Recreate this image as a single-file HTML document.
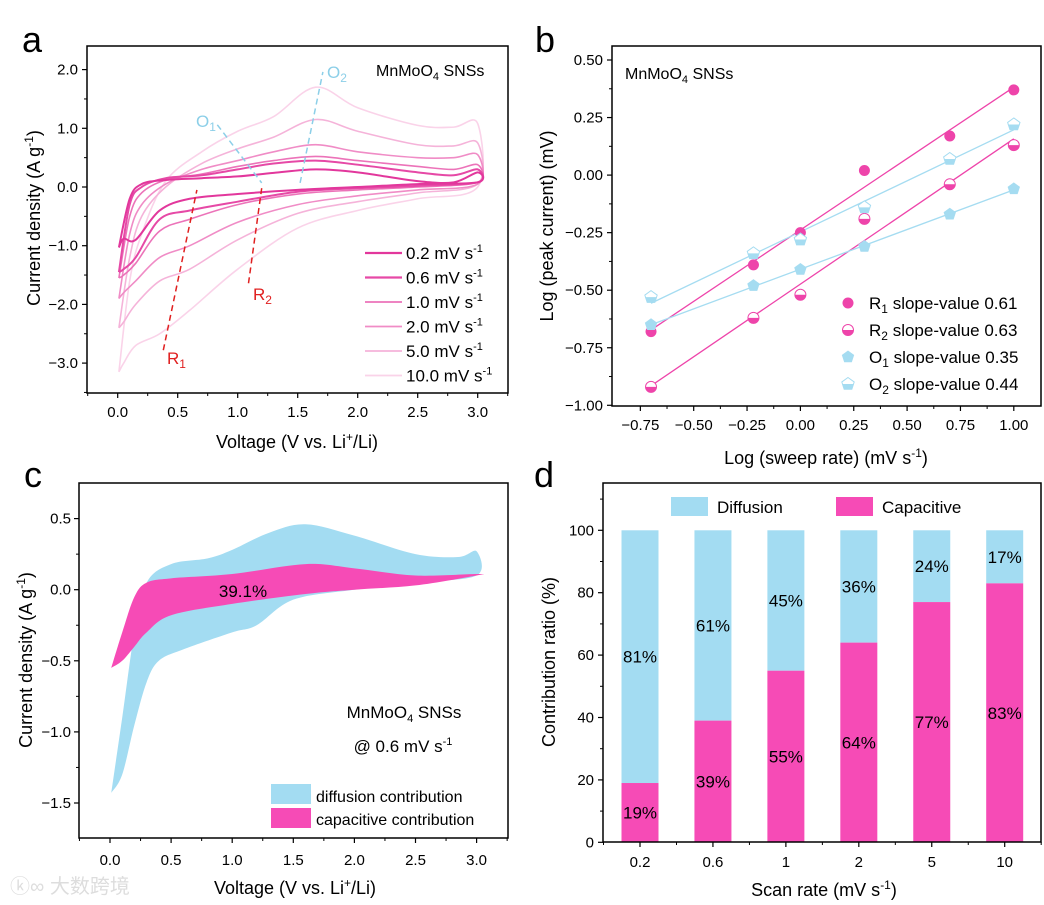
<!DOCTYPE html>
<html><head><meta charset="utf-8">
<style>
html,body{margin:0;padding:0;background:#fff;}
svg{display:block;font-family:"Liberation Sans",Arial,sans-serif;}
</style></head>
<body>
<svg id="fig" width="1044" height="905" viewBox="0 0 1044 905" xmlns="http://www.w3.org/2000/svg">
<rect width="1044" height="905" fill="#fff"/>
<g id="pa"></g>
<g id="pb"></g>
<g id="pc"></g>
<g id="pd"></g>
<text x="10" y="893" font-size="20" fill="#ddd" font-family="Liberation Sans, Noto Sans CJK SC, sans-serif">ⓚ∞ 大数跨境</text>
</svg>
<script>
// ---------- Panel a data ----------
const aRates = ['0.2','0.6','1.0','2.0','5.0','10.0'];
const aColors = ['#e2379c','#e649a6','#ec73b9','#f08cc6','#f5b3d9','#fad3e9'];
const aUpV = [0.01,0.1,0.2,0.4,0.7,1.0,1.3,1.65,2.0,2.5,2.8,3.0];
const aLoV = [3.0,2.5,2.0,1.5,1.0,0.6,0.35,0.15,0.05,0.01];
const aUp02 = [-1.03,-0.2,0.05,0.12,0.15,0.18,0.24,0.3,0.25,0.1,0.08,0.25];
const aLo02 = [0.08,0.05,0.0,-0.05,-0.12,-0.2,-0.4,-0.9,-0.88,-1.03];
const aUp06 = [-1.45,-0.3,0.0,0.15,0.2,0.3,0.4,0.45,0.38,0.25,0.2,0.3];
const aLo06 = [0.08,0.02,-0.02,-0.08,-0.25,-0.4,-0.55,-1.2,-1.4,-1.45];
const aUp10 = [-1.55,-0.5,-0.1,0.12,0.22,0.35,0.45,0.52,0.45,0.35,0.3,0.38];
const aLo10 = [0.08,0.0,-0.05,-0.12,-0.3,-0.55,-0.75,-1.3,-1.5,-1.55];
const aUp20 = [-1.9,-0.8,-0.3,0.05,0.3,0.45,0.6,0.72,0.6,0.5,0.5,0.55];
const aLo20 = [0.05,-0.05,-0.15,-0.3,-0.6,-1.0,-1.2,-1.6,-1.8,-1.9];
const aUp50 = [-2.4,-1.2,-0.5,0.0,0.4,0.65,0.85,1.15,0.95,0.72,0.7,0.75];
const aLo50 = [0.05,-0.1,-0.25,-0.45,-0.9,-1.4,-1.6,-2.0,-2.3,-2.4];
const aUp100 = [-3.15,-1.6,-0.8,0.1,0.6,0.95,1.2,1.7,1.35,1.05,1.02,1.08];
const aLo100 = [0.0,-0.2,-0.4,-0.7,-1.4,-2.1,-2.5,-2.7,-3.0,-3.15];
const aXTicks = [0,0.5,1.0,1.5,2.0,2.5,3.0];
const aYTicks = [2,1,0,-1,-2,-3];
// ---------- Panel b data ----------
const bX = [-0.7,-0.22,0,0.3,0.7,1.0];
const bR1 = [-0.68,-0.39,-0.25,0.02,0.17,0.37];
const bR2 = [-0.92,-0.62,-0.52,-0.19,-0.04,0.13];
const bO1 = [-0.65,-0.48,-0.41,-0.31,-0.17,-0.06];
const bO2 = [-0.53,-0.34,-0.28,-0.14,0.07,0.22];
const bXTicks = [-0.75,-0.5,-0.25,0,0.25,0.5,0.75,1.0];
const bYTicks = [0.5,0.25,0,-0.25,-0.5,-0.75,-1.0];
const bLabels = ['0.61','0.63','0.35','0.44'];
// ---------- Panel c data ----------
const cDiffUpV = [0.01,0.1,0.2,0.3,0.5,0.8,1.0,1.3,1.6,2.0,2.5,2.85,3.0];
const cDiffUp = [-1.43,-0.9,-0.3,0.05,0.18,0.22,0.28,0.4,0.46,0.38,0.25,0.23,0.27];
const cDiffLoV = [3.0,2.5,2.0,1.5,1.2,1.0,0.6,0.4,0.3,0.2,0.1,0.01];
const cDiffLo = [0.1,0.05,0.0,-0.07,-0.25,-0.3,-0.42,-0.5,-0.65,-0.95,-1.3,-1.43];
const cCapUpV = [0.01,0.1,0.2,0.3,0.5,1.0,1.6,2.0,2.5,3.0];
const cCapUp = [-0.55,-0.3,-0.05,0.05,0.08,0.11,0.18,0.15,0.1,0.11];
const cCapLoV = [3.0,2.5,2.0,1.6,1.0,0.5,0.3,0.2,0.1,0.01];
const cCapLo = [0.1,0.03,0.0,-0.03,-0.1,-0.18,-0.3,-0.4,-0.5,-0.55];
const cXTicks = [0,0.5,1.0,1.5,2.0,2.5,3.0];
const cYTicks = [0.5,0,-0.5,-1.0,-1.5];
// ---------- Panel d data ----------
const dCats = ['0.2','0.6','1','2','5','10'];
const dCap = [19,39,55,64,77,83];
const dDiffLabel = [81,61,45,36,24,17];
const dYTicks = [0,20,40,60,80,100];

const NS='http://www.w3.org/2000/svg';
const TF=15, AF=18;
function el(parent,tag,attrs,text){const e=document.createElementNS(NS,tag);for(const k in attrs)e.setAttribute(k,attrs[k]);if(text!==undefined)e.textContent=text;parent.appendChild(e);return e;}
function smooth(pts){let d='M'+pts[0][0]+','+pts[0][1];for(let i=0;i<pts.length-1;i++){const p0=pts[i-1]||pts[i],p1=pts[i],p2=pts[i+1],p3=pts[i+2]||p2;const c1=[p1[0]+(p2[0]-p0[0])/6,p1[1]+(p2[1]-p0[1])/6],c2=[p2[0]-(p3[0]-p1[0])/6,p2[1]-(p3[1]-p1[1])/6];d+=' C'+c1[0]+','+c1[1]+' '+c2[0]+','+c2[1]+' '+p2[0]+','+p2[1];}return d;}
function fmt(v,dec){let s=v.toFixed(dec);if(v<0)s='\u2212'+s.slice(1);return s;}
function frame(g,x0,y0,x1,y1){const r=el(g,'rect',{x:x0,y:y0,width:x1-x0,height:y1-y0,fill:'none',stroke:'#000','stroke-width':1.5});}

// ===== Panel a =====
(function(){
const g=document.getElementById('pa');
const X=v=>117.7+v*120, Y=v=>187-v*58.7;
const t=el(g,'text',{x:22,y:52,'font-size':36},'a');
const ups=[aUp02,aUp06,aUp10,aUp20,aUp50,aUp100], los=[aLo02,aLo06,aLo10,aLo20,aLo50,aLo100];
for(let k=5;k>=0;k--){
 const pts=aUpV.map((v,i)=>[X(v),Y(ups[k][i])]).concat(aLoV.map((v,i)=>[X(v),Y(los[k][i])]));
 const p=el(g,'path',{d:smooth(pts),fill:'none',stroke:aColors[k],'stroke-width':k<2?2:1.6});
 
}
const dl=[[0.38,-2.78,0.66,-0.05,'#e02020'],[1.09,-1.64,1.2,-0.02,'#e02020'],[0.83,1.06,1.2,0.07,'#8ccfe8'],[1.52,0.07,1.71,1.96,'#8ccfe8']];
const dn=['r1-guide','r2-guide','o1-guide','o2-guide'];
dl.forEach((l,i)=>{const e=el(g,'line',{x1:X(l[0]),y1:Y(l[1]),x2:X(l[2]),y2:Y(l[3]),stroke:l[4],'stroke-width':1.5,'stroke-dasharray':'6,4'});});
const lab=[[167,364,'R','1','#e02020'],[253,300,'R','2','#e02020'],[196,127,'O','1','#8ccfe8'],[327,78,'O','2','#8ccfe8']];
lab.forEach((l,i)=>{const e=el(g,'text',{x:l[0],y:l[1],'font-size':17,fill:l[4]});e.innerHTML=l[2]+'<tspan font-size="12" dy="4">'+l[3]+'</tspan>';});
frame(g,87,46,508,393);
aXTicks.forEach(v=>{el(g,'line',{x1:X(v),y1:393,x2:X(v),y2:398,stroke:'#000','stroke-width':1.2});const e=el(g,'text',{x:X(v),y:417,'font-size':TF,'text-anchor':'middle'},v.toFixed(1));});
for(let v=-0.25;v<3.3;v+=0.5){el(g,'line',{x1:X(v),y1:393,x2:X(v),y2:396,stroke:'#000'});}
aYTicks.forEach(v=>{el(g,'line',{x1:82,y1:Y(v),x2:87,y2:Y(v),stroke:'#000','stroke-width':1.2});const e=el(g,'text',{x:78,y:Y(v)+5,'font-size':TF,'text-anchor':'end'},fmt(v,1));});
for(let v=-3.5;v<2.3;v+=1){el(g,'line',{x1:84,y1:Y(v),x2:87,y2:Y(v),stroke:'#000'});}
let e=el(g,'text',{x:297,y:448,'font-size':AF,'text-anchor':'middle'});e.innerHTML='Voltage (V vs. Li<tspan font-size="12" dy="-7">+</tspan><tspan dy="7">/Li)</tspan>';
e=el(g,'text',{transform:'translate(40,218) rotate(-90)','font-size':AF,'text-anchor':'middle'});e.innerHTML='Current density (A g<tspan font-size="12" dy="-7">-1</tspan><tspan dy="7">)</tspan>';
e=el(g,'text',{x:376,y:76,'font-size':16});e.innerHTML='MnMoO<tspan font-size="11" dy="4">4</tspan><tspan dy="-4"> SNSs</tspan>';
aRates.forEach((r,i)=>{const y=253+i*24.5;const l=el(g,'line',{x1:365,y1:y,x2:402,y2:y,stroke:aColors[i],'stroke-width':i<2?2.2:1.8});const tx=el(g,'text',{x:406,y:y+6,'font-size':17});tx.innerHTML=r+' mV s<tspan font-size="11" dy="-7">-1</tspan>';});
})();

// ===== Panel b =====
(function(){
const g=document.getElementById('pb');
const X=v=>800.4+v*213.4, Y=v=>175.1-v*230.2;
let e=el(g,'text',{x:535,y:52,'font-size':36},'b');
const pink='#ee44aa',blue='#a5dcf1';
const series=[[bR1,pink,'circle','full','r1'],[bR2,pink,'circle','half','r2'],[bO1,blue,'pent','full','o1'],[bO2,blue,'pent','half','o2']];
function fit(ys){const n=bX.length;let sx=0,sy=0,sxx=0,sxy=0;for(let i=0;i<n;i++){sx+=bX[i];sy+=ys[i];sxx+=bX[i]*bX[i];sxy+=bX[i]*ys[i];}const m=(n*sxy-sx*sy)/(n*sxx-sx*sx);return [m,(sy-m*sx)/n];}
function marker(cx,cy,shape,fill,col,name){
 const gg=el(g,'g',{});
 if(shape==='circle'){const r=5.5;
   if(fill==='full'){el(gg,'circle',{cx,cy,r,fill:col});}
   else{el(gg,'circle',{cx,cy,r,fill:'#fff',stroke:col,'stroke-width':1});el(gg,'path',{d:`M${cx-r},${cy} A${r},${r} 0 0 0 ${cx+r},${cy} Z`,fill:col});}
 } else {const r=6.5;const pts=[];for(let i=0;i<5;i++){const a=-Math.PI/2+i*2*Math.PI/5;pts.push([cx+r*Math.cos(a),cy+r*Math.sin(a)]);}
   const ps=pts.map(p=>p.join(',')).join(' ');
   if(fill==='full'){el(gg,'polygon',{points:ps,fill:col});}
   else{el(gg,'polygon',{points:ps,fill:'#fff',stroke:col,'stroke-width':1});el(gg,'polygon',{points:`${cx-6},${cy} ${cx+6},${cy} ${pts[2][0]},${pts[2][1]} ${pts[3][0]},${pts[3][1]}`,fill:col});}
 }
}
series.forEach(s=>{const [m,b]=fit(s[0]);const l=el(g,'line',{x1:X(-0.7),y1:Y(m*-0.7+b),x2:X(1),y2:Y(m+b),stroke:s[1],'stroke-width':1.3});});
series.forEach(s=>{s[0].forEach((v,i)=>marker(X(bX[i]),Y(v),s[2],s[3],s[1],'point-'+s[4]));});
frame(g,612,46,1041,406);
bXTicks.forEach(v=>{el(g,'line',{x1:X(v),y1:406,x2:X(v),y2:411,stroke:'#000','stroke-width':1.2});e=el(g,'text',{x:X(v),y:430,'font-size':TF,'text-anchor':'middle'},fmt(v,2));});
for(let v=-0.625;v<1.1;v+=0.25){el(g,'line',{x1:X(v),y1:406,x2:X(v),y2:409,stroke:'#000'});}
bYTicks.forEach(v=>{el(g,'line',{x1:607,y1:Y(v),x2:612,y2:Y(v),stroke:'#000','stroke-width':1.2});e=el(g,'text',{x:603,y:Y(v)+5,'font-size':TF,'text-anchor':'end'},fmt(v,2));});
for(let v=-0.875;v<0.5;v+=0.25){el(g,'line',{x1:609,y1:Y(v),x2:612,y2:Y(v),stroke:'#000'});}
e=el(g,'text',{x:826,y:464,'font-size':AF,'text-anchor':'middle'});e.innerHTML='Log (sweep rate) (mV s<tspan font-size="12" dy="-7">-1</tspan><tspan dy="7">)</tspan>';
e=el(g,'text',{transform:'translate(553,226) rotate(-90)','font-size':AF,'text-anchor':'middle'},'Log (peak current) (mV)');
e=el(g,'text',{x:625,y:79,'font-size':16});e.innerHTML='MnMoO<tspan font-size="11" dy="4">4</tspan><tspan dy="-4"> SNSs</tspan>';
series.forEach((s,i)=>{const y=303+i*27;marker(848,y,s[2],s[3],s[1],'legend-marker-'+s[4]);e=el(g,'text',{x:869,y:y+6,'font-size':17});e.innerHTML=s[4][0].toUpperCase()+'<tspan font-size="12" dy="4">'+s[4][1]+'</tspan><tspan dy="-4"> slope-value '+bLabels[i]+'</tspan>';});
})();

// ===== Panel c =====
(function(){
const g=document.getElementById('pc');
const X=v=>110+v*122.2, Y=v=>589.7-v*142.2;
let e=el(g,'text',{x:24,y:487,'font-size':36},'c');
const dp=cDiffUpV.map((v,i)=>[X(v),Y(cDiffUp[i])]).concat(cDiffLoV.map((v,i)=>[X(v),Y(cDiffLo[i])]));
e=el(g,'path',{d:smooth(dp)+' Z',fill:'#a3dcf2'});
const cp=cCapUpV.map((v,i)=>[X(v),Y(cCapUp[i])]).concat(cCapLoV.map((v,i)=>[X(v),Y(cCapLo[i])]));
e=el(g,'path',{d:smooth(cp)+' Z',fill:'#f64bb6'});
e=el(g,'text',{x:243,y:597,'font-size':17,'text-anchor':'middle'},'39.1%');
frame(g,79,483,508,838);
cXTicks.forEach(v=>{el(g,'line',{x1:X(v),y1:838,x2:X(v),y2:843,stroke:'#000','stroke-width':1.2});e=el(g,'text',{x:X(v),y:865,'font-size':TF,'text-anchor':'middle'},v.toFixed(1));});
for(let v=-0.25;v<3.3;v+=0.5){el(g,'line',{x1:X(v),y1:838,x2:X(v),y2:841,stroke:'#000'});}
cYTicks.forEach(v=>{el(g,'line',{x1:74,y1:Y(v),x2:79,y2:Y(v),stroke:'#000','stroke-width':1.2});e=el(g,'text',{x:71,y:Y(v)+5,'font-size':TF,'text-anchor':'end'},fmt(v,1));});
for(let v=-1.25;v<0.6;v+=0.5){el(g,'line',{x1:76,y1:Y(v),x2:79,y2:Y(v),stroke:'#000'});}
e=el(g,'text',{x:295,y:894,'font-size':AF,'text-anchor':'middle'});e.innerHTML='Voltage (V vs. Li<tspan font-size="12" dy="-7">+</tspan><tspan dy="7">/Li)</tspan>';
e=el(g,'text',{transform:'translate(32,660) rotate(-90)','font-size':AF,'text-anchor':'middle'});e.innerHTML='Current density (A g<tspan font-size="12" dy="-7">-1</tspan><tspan dy="7">)</tspan>';
e=el(g,'text',{x:404,y:718,'font-size':17,'text-anchor':'middle'});e.innerHTML='MnMoO<tspan font-size="11" dy="4">4</tspan><tspan dy="-4"> SNSs</tspan>';
e=el(g,'text',{x:403,y:752,'font-size':17,'text-anchor':'middle'});e.innerHTML='@ 0.6 mV s<tspan font-size="11" dy="-7">-1</tspan>';
e=el(g,'rect',{x:271,y:784,width:40,height:20,fill:'#a3dcf2'});
e=el(g,'rect',{x:271,y:808,width:40,height:20,fill:'#f64bb6'});
e=el(g,'text',{x:316,y:802,'font-size':16},'diffusion contribution');
e=el(g,'text',{x:316,y:825,'font-size':16},'capacitive contribution');
})();

// ===== Panel d =====
(function(){
const g=document.getElementById('pd');
const X=i=>640+i*72.94, Y=v=>842.3-v*3.12, bw=37;
let e=el(g,'text',{x:534,y:487,'font-size':36},'d');
dCats.forEach((c,i)=>{
 const cap=dCap[i];
 e=el(g,'rect',{x:X(i)-bw/2,y:Y(100),width:bw,height:Y(cap)-Y(100),fill:'#a3dcf2'});
 e=el(g,'rect',{x:X(i)-bw/2,y:Y(cap),width:bw,height:Y(0)-Y(cap),fill:'#f64bb6'});
 e=el(g,'text',{x:X(i),y:Y((100+cap)/2)+6,'font-size':17,'text-anchor':'middle'},dDiffLabel[i]+'%');
 e=el(g,'text',{x:X(i),y:Y(cap/2)+6,'font-size':17,'text-anchor':'middle'},cap+'%');
 el(g,'line',{x1:X(i),y1:842,x2:X(i),y2:847,stroke:'#000','stroke-width':1.2});
 e=el(g,'text',{x:X(i),y:867,'font-size':TF,'text-anchor':'middle'},c);
 el(g,'line',{x1:X(i)+36.5,y1:842,x2:X(i)+36.5,y2:845,stroke:'#000'});
});
el(g,'line',{x1:X(0)-36.5,y1:842,x2:X(0)-36.5,y2:845,stroke:'#000'});
frame(g,603,483,1041,842);
dYTicks.forEach(v=>{el(g,'line',{x1:598,y1:Y(v),x2:603,y2:Y(v),stroke:'#000','stroke-width':1.2});e=el(g,'text',{x:594,y:Y(v)+5,'font-size':TF,'text-anchor':'end'},v);});
for(let v=10;v<115;v+=20){el(g,'line',{x1:600,y1:Y(v),x2:603,y2:Y(v),stroke:'#000'});}
e=el(g,'text',{x:824,y:896,'font-size':AF,'text-anchor':'middle'});e.innerHTML='Scan rate (mV s<tspan font-size="12" dy="-7">-1</tspan><tspan dy="7">)</tspan>';
e=el(g,'text',{transform:'translate(555,662) rotate(-90)','font-size':AF,'text-anchor':'middle'},'Contribution ratio (%)');
e=el(g,'rect',{x:671,y:497,width:37,height:19,fill:'#a3dcf2'});
e=el(g,'text',{x:717,y:513,'font-size':17},'Diffusion');
e=el(g,'rect',{x:836,y:497,width:37,height:19,fill:'#f64bb6'});
e=el(g,'text',{x:882,y:513,'font-size':17},'Capacitive');
})();
</script>
</body></html>
